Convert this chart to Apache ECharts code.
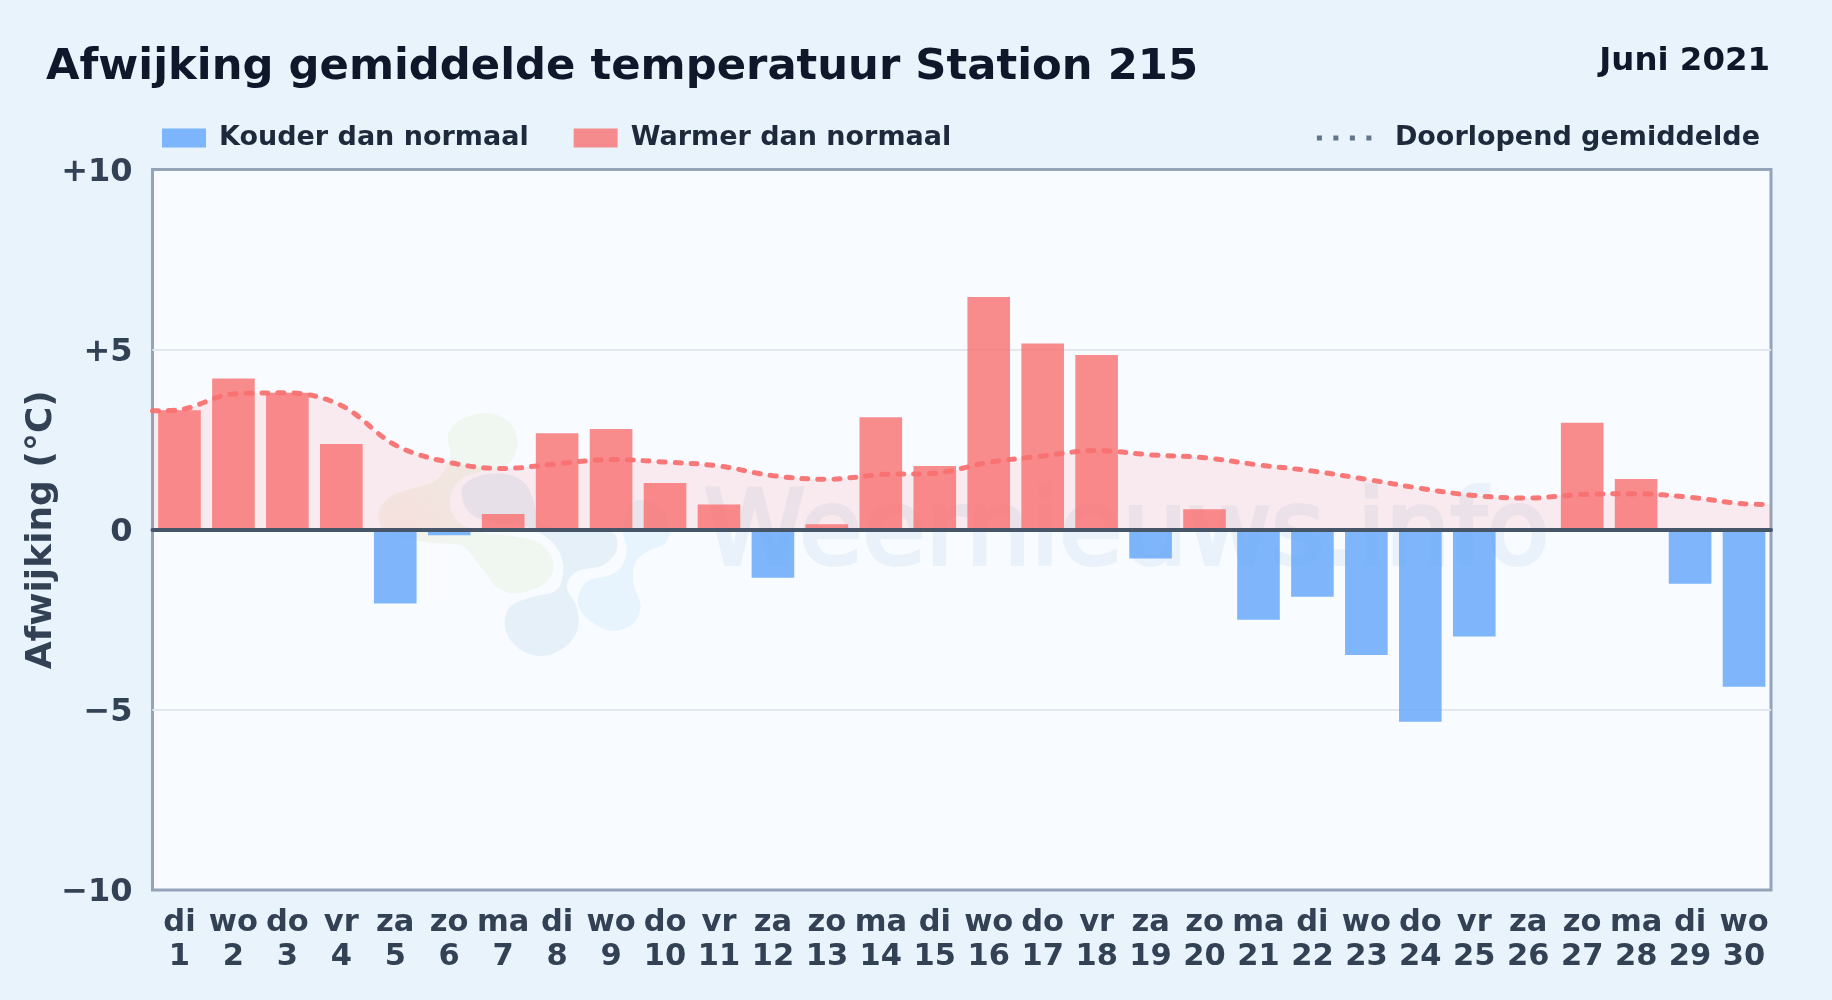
<!DOCTYPE html>
<html><head><meta charset="utf-8">
<style>html,body{margin:0;padding:0;background:#e8f3fc}#c{width:1832px;height:1000px}</style>
<script src="https://cdn.jsdelivr.net/npm/echarts@6/dist/echarts.min.js"></script>
</head><body><div id="c"></div>
<script>
const weekdays = ['di','wo','do','vr','za','zo','ma','di','wo','do','vr','za','zo','ma','di','wo','do','vr','za','zo','ma','di','wo','do','vr','za','zo','ma','di','wo'];
const days = [1,2,3,4,5,6,7,8,9,10,11,12,13,14,15,16,17,18,19,20,21,22,23,24,25,26,27,28,29,30];
const deviations = [3.32,4.2,3.8,2.38,-2.05,-0.15,0.44,2.68,2.8,1.3,0.7,-1.33,0.15,3.12,1.77,6.46,5.17,4.85,-0.8,0.57,-2.5,-1.86,-3.48,-5.33,-2.96,0,2.97,1.41,-1.5,-4.36];
const avgPositions = [0.5,1,2,3,4,5,6,7,8,9,10,11,12,13,14,15,16,17,18,19,20,21,22,23,24,25,26,27,28,29,30,30.5];
const avgValues = [3.3,3.33,3.77,3.8,3.45,2.35,1.87,1.7,1.83,1.95,1.88,1.77,1.5,1.4,1.53,1.57,1.87,2.05,2.2,2.08,2.0,1.8,1.63,1.4,1.15,0.95,0.88,0.98,1.0,0.9,0.72,0.7];
const yTicks = {'10':'+10','5':'+5','0':'0','-5':'\u22125','-10':'\u221210'};
const FONT = '"DejaVu Sans"';
const pts = (arr) => arr.map(p => [370 + p[0] / 3, 400 + p[1] / 3]);
const logoGreen = pts([[235,100],[280,55],[360,40],[425,75],[442,135],[410,195],[330,215],[270,240],[240,300],[260,360],[330,395],[440,410],[510,430],[550,490],[530,545],[440,580],[380,560],[340,510],[280,440],[200,430],[130,420],[50,400],[25,340],[60,290],[130,265],[200,240],[240,170]]);
const logoGrey = pts([[275,270],[310,235],[390,220],[460,245],[490,300],[510,370],[600,385],[730,400],[740,450],[700,495],[620,515],[590,560],[620,620],[622,690],[580,745],[510,768],[440,740],[405,680],[420,620],[490,590],[560,570],[580,500],[550,430],[470,380],[380,370],[300,340]]);
const logoBlue = pts([[625,590],[650,545],[720,525],[755,500],[770,450],[760,400],[770,340],[800,300],[870,320],[900,390],[885,430],[830,455],[795,490],[790,550],[812,620],[790,670],[730,693],[670,670],[630,630]]);

const chart = echarts.init(document.getElementById('c'), null, {renderer:'canvas'});
chart.setOption({
  animation:false,
  backgroundColor:'#e8f3fc',
  textStyle:{fontFamily:FONT},
  title:[
    {text:'Afwijking gemiddelde temperatuur Station 215',left:41,top:41,textStyle:{fontFamily:FONT,fontWeight:'bold',fontSize:43.3,color:'#0f172a'}},
    {text:'Juni 2021',right:57,top:41,textStyle:{fontFamily:FONT,fontWeight:'bold',fontSize:32.4,color:'#0f172a'}}
  ],
  legend:[
    {left:162,top:124.5,itemWidth:44,itemHeight:19,itemGap:45,padding:0,icon:'rect',
     data:['Kouder dan normaal','Warmer dan normaal'],
     textStyle:{fontFamily:FONT,fontWeight:'bold',fontSize:27,color:'#1e293b',padding:[0,0,0,8]}},
    {right:72,top:124.5,itemWidth:56,itemHeight:19,padding:0,
     data:['Doorlopend gemiddelde'],
     itemStyle:{opacity:0},
     lineStyle:{color:'#64748b',width:5,type:[5,11.5],cap:'butt',opacity:1},
     textStyle:{fontFamily:FONT,fontWeight:'bold',fontSize:27,color:'#1e293b',padding:[0,0,0,17]}}
  ],
  grid:{left:152.5,right:61,top:169.5,bottom:110,show:true,backgroundColor:'#f8fbff',borderColor:'#94a3b8',borderWidth:3},
  xAxis:[
    {type:'category',position:'bottom',data:days.map((d,i)=>weekdays[i]+'\n'+d),
     axisLine:{show:false,onZero:false},axisTick:{show:false},splitLine:{show:false},
     axisLabel:{interval:0,margin:16,hideOverlap:false,fontFamily:FONT,fontWeight:'bold',fontSize:30.5,lineHeight:34,color:'#334155'}},
    {type:'value',min:0.5,max:30.5,z:6,
     axisLine:{show:true,onZero:true,lineStyle:{color:'#475569',width:4}},
     axisTick:{show:false},axisLabel:{show:false},splitLine:{show:false}}
  ],
  yAxis:{type:'value',min:-10,max:10,interval:5,
    name:'Afwijking (\u00B0C)',nameLocation:'middle',nameGap:93,nameMoveOverlap:false,
    nameTextStyle:{fontFamily:FONT,fontWeight:'bold',fontSize:36,color:'#334155'},
    axisLine:{show:false},axisTick:{show:false},
    splitLine:{show:true,showMinLine:false,showMaxLine:false,lineStyle:{color:'#e2e8f0',width:2}},
    axisLabel:{margin:20,formatter:v=>'{t|'+yTicks[String(v)]+'}',
      rich:{t:{padding:[6,0,0,0],fontFamily:FONT,fontWeight:'bold',fontSize:32,color:'#334155'}}}},
  graphic:[
    {type:'polygon',z:1,silent:true,shape:{points:logoGreen,smooth:0.35},style:{fill:{type:'radial',x:0.15,y:0.62,r:0.35,colorStops:[{offset:0,color:'rgba(225,150,90,0.11)'},{offset:1,color:'rgba(170,205,110,0.10)'}]}}},
    {type:'polygon',z:1,silent:true,shape:{points:logoGrey,smooth:0.35},style:{fill:'rgba(60,130,190,0.09)'}},
    {type:'polygon',z:1,silent:true,shape:{points:logoBlue,smooth:0.35},style:{fill:'rgba(35,164,230,0.08)'}},
    {type:'text',z:1,silent:true,left:702,top:484,style:{text:'Weernieuws.info',fontFamily:FONT,fontSize:102.5,fill:'#e9f1fa',stroke:'#e9f1fa',lineWidth:4}}
  ],
  series:[
    {name:'Kouder dan normaal',type:'bar',xAxisIndex:0,stack:'d',barWidth:'79%',
     itemStyle:{color:'rgba(96,165,250,0.8)'},data:deviations.map(v=>v<0?v:null)},
    {name:'Warmer dan normaal',type:'bar',xAxisIndex:0,stack:'d',barWidth:'79%',
     itemStyle:{color:'rgba(248,113,113,0.8)'},data:deviations.map(v=>v>0?v:null)},
    {name:'Doorlopend gemiddelde',type:'line',xAxisIndex:1,smooth:0.35,symbol:'none',z:4,
     lineStyle:{color:'#f87171',width:5,type:[6,10],cap:'round',opacity:0.95},
     areaStyle:{color:'rgba(255,107,107,0.16)'},
     data:avgPositions.map((x,i)=>[x,avgValues[i]])}
  ]
});
</script></body></html>
